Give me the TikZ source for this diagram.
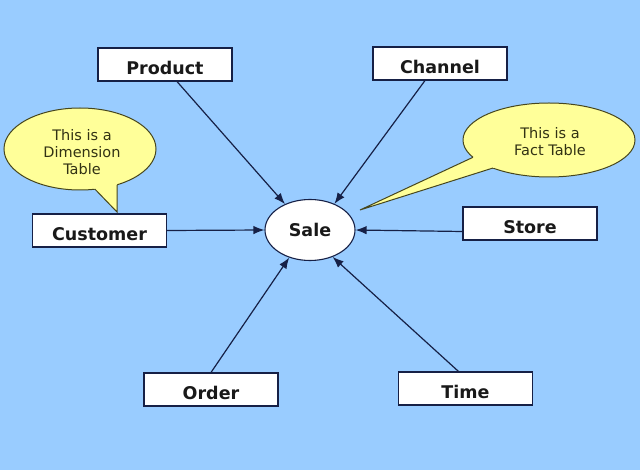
\documentclass[tikz,border=0pt]{standalone}
\usepackage{fontspec}
\setmainfont{DejaVu Sans}
\usetikzlibrary{arrows.meta,calc,shapes.geometric}
\definecolor{bgblue}{RGB}{153,204,255}
\definecolor{navy}{RGB}{22,32,70}
\definecolor{bubble}{RGB}{255,255,153}
\definecolor{bubbleline}{RGB}{70,70,30}
\definecolor{bubbletext}{RGB}{50,50,20}
\tikzset{
  tablebox/.style={draw=navy, line width=1.1pt, fill=white, minimum width=134pt, minimum height=33pt,
    inner sep=0pt, font=\fontsize{17.5}{19}\selectfont\bfseries, text=black!90, text height=20pt, text depth=0pt},
  factnode/.style={draw=navy, line width=1.1pt, fill=white, ellipse, minimum width=90pt, minimum height=61pt,
    inner sep=0pt, font=\fontsize{17.5}{19}\selectfont\bfseries, text=black!90},
  link/.style={draw=navy, line width=1.2pt, -{Latex[length=11pt,width=8.5pt]}},
  bubbletxt/.style={font=\fontsize{14.5}{17}\selectfont, text=bubbletext, align=center, inner sep=0pt},
}
\begin{document}
\begin{tikzpicture}[x=1pt,y=-1pt]
\fill[bgblue] (0,0) rectangle (640,470);
\useasboundingbox (0,0) rectangle (640,470);

% callout: dimension table
\coordinate (dimtip) at (117,212);
\coordinate (dimA) at (95,189.2);
\coordinate (dimB) at (117,184.8);
\fill[bubble, draw=bubbleline, line width=1pt] (80,149) ellipse [x radius=76, y radius=41];
\fill[bubble] (dimtip) -- ($(dimtip)!1.3!(dimA)$) -- ($(dimtip)!1.3!(dimB)$) -- cycle;
\draw[bubbleline, line width=1pt] (dimA) -- (dimtip) -- (dimB);
\node[bubbletxt] (dimtext) at (82,152) {This is a\\Dimension\\Table};

% callout: fact table
\coordinate (facttip) at (360,210);
\coordinate (factA) at (473,157.3);
\coordinate (factB) at (493,168);
\fill[bubble, draw=bubbleline, line width=1pt] (549,140) ellipse [x radius=86, y radius=37];
\fill[bubble] (facttip) -- ($(facttip)!1.08!(factA)$) -- ($(facttip)!1.08!(factB)$) -- cycle;
\draw[bubbleline, line width=1pt] (factA) -- (facttip) -- (factB);
\node[bubbletxt] (facttext) at (550,142) {This is a\\Fact Table};

% nodes
\node[factnode] (sale) at (310,230) {Sale};
\node[tablebox] (product) at (165,64.5) {Product};
\node[tablebox] (channel) at (440,63.5) {Channel};
\node[tablebox] (customer) at (99.5,230.5) {Customer};
\node[tablebox] (store) at (530,223.5) {Store};
\node[tablebox] (order) at (211,389.5) {Order};
\node[tablebox] (time) at (465.5,388.5) {Time};

% connectors
\draw[link] ($(product.south)+(12,0)$) -- (sale.134);
\draw[link] ($(channel.south)+(-15,0)$) -- (sale.47);
\draw[link] (customer.east) -- (sale.west);
\draw[link] ($(store.west)+(0,8)$) -- (sale.east);
\draw[link] (order.north) -- (sale.233);
\draw[link] ($(time.north)+(-7,0)$) -- (sale.310);
\end{tikzpicture}
\end{document}
